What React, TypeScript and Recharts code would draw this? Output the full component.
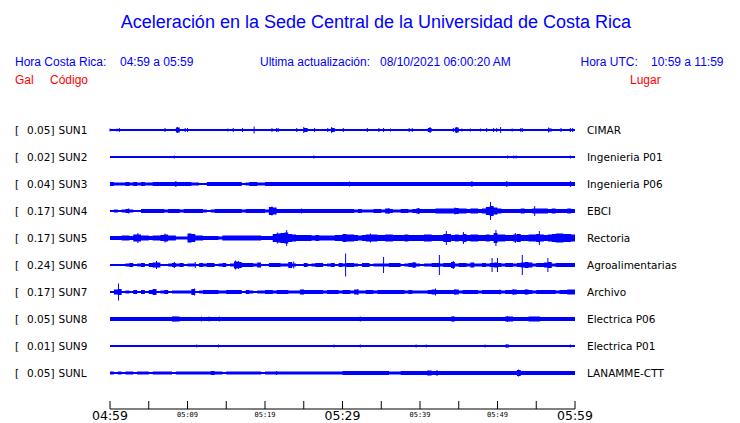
import { Area, ComposedChart, ErrorBar, Scatter, XAxis, YAxis } from "recharts";

// stations, top to bottom
const codes = ["SUN1", "SUN2", "SUN3", "SUN4", "SUN5", "SUN6", "SUN7", "SUN8", "SUN9", "SUNL"];
const places = [
  "CIMAR",
  "Ingenieria P01",
  "Ingenieria P06",
  "EBCI",
  "Rectoria",
  "Agroalimentarias",
  "Archivo",
  "Electrica P06",
  "Electrica P01",
  "LANAMME-CTT"
];
const gal = [0.05, 0.02, 0.04, 0.17, 0.17, 0.24, 0.17, 0.05, 0.01, 0.05];

// minutes after 04:59
const tickMinutes = [0, 5, 10, 15, 20, 25, 30, 35, 40, 45, 50, 55, 60];
const tickLabels = ["04:59", "", "05:09", "", "05:19", "", "05:29", "", "05:39", "", "05:49", "", "05:59"];
const majorLabels = ["04:59", "05:29", "05:59"];

// envelope half-width per half minute (half-pixel units)
const sun1Env = [
  2, 2, 2, 2, 2, 2, 2, 2, 2, 2, 2, 2, 2, 2, 2, 2, 2, 5, 2, 2, 2, 2, 2, 2, 2, 2, 2, 2, 2, 2, 2, 2, 2, 2, 2, 2, 2, 2, 2, 2,
  2, 2, 2, 2, 2, 2, 2, 2, 2, 2, 4, 2, 2, 2, 2, 2, 2, 4, 2, 2, 2, 2, 2, 2, 2, 2, 2, 2, 2, 2, 2, 2, 2, 2, 2, 2, 2, 2, 2, 2,
  2, 2, 4, 2, 2, 2, 2, 2, 2, 5, 2, 2, 2, 2, 2, 2, 2, 2, 2, 2, 2, 2, 2, 2, 2, 2, 2, 2, 2, 2, 2, 2, 2, 3, 2, 2, 2, 2, 2, 2
];
const sun2Env = [
  2, 2, 2, 2, 2, 2, 2, 2, 2, 2, 2, 2, 2, 2, 2, 2, 2, 2, 2, 2, 2, 2, 2, 2, 2, 2, 2, 2, 2, 2, 2, 2, 2, 2, 2, 2, 2, 2, 2, 2,
  2, 2, 2, 2, 2, 2, 2, 2, 2, 2, 2, 2, 2, 2, 2, 2, 2, 2, 2, 2, 2, 2, 2, 2, 2, 2, 2, 2, 2, 2, 2, 2, 2, 2, 2, 2, 2, 2, 2, 2,
  2, 2, 2, 2, 2, 2, 2, 2, 2, 2, 2, 2, 2, 2, 2, 2, 2, 2, 2, 2, 2, 2, 2, 2, 2, 2, 2, 2, 2, 2, 2, 2, 2, 2, 2, 2, 2, 2, 2, 2
];
const sun3Env = [
  4, 3, 3, 3, 4, 3, 4, 3, 4, 3, 3, 4, 4, 4, 4, 4, 4, 4, 4, 4, 4, 3, 3, 2, 2, 4, 4, 4, 4, 4, 4, 4, 4, 4, 2, 3, 4, 4, 3, 3,
  4, 4, 4, 4, 4, 4, 4, 4, 4, 4, 4, 4, 4, 4, 4, 4, 4, 4, 4, 4, 4, 4, 4, 4, 4, 4, 4, 4, 4, 4, 4, 4, 4, 4, 4, 4, 4, 4, 4, 4,
  4, 4, 4, 4, 4, 4, 4, 4, 4, 4, 4, 4, 4, 4, 4, 4, 4, 4, 4, 4, 4, 4, 4, 4, 4, 4, 4, 4, 4, 4, 4, 4, 4, 4, 4, 4, 4, 4, 4, 4
];
const sun4Env = [
  2, 3, 2, 3, 4, 3, 2, 2, 4, 4, 4, 4, 4, 4, 3, 4, 4, 4, 3, 4, 4, 4, 4, 4, 3, 2, 3, 4, 4, 4, 4, 4, 4, 4, 3, 4, 4, 4, 4, 4,
  3, 8, 7, 4, 4, 4, 4, 4, 4, 4, 4, 4, 4, 4, 4, 4, 4, 4, 4, 4, 4, 4, 4, 3, 4, 3, 3, 3, 4, 4, 3, 5, 4, 3, 3, 4, 4, 3, 4, 5,
  4, 4, 4, 4, 5, 5, 5, 5, 5, 6, 5, 5, 4, 5, 5, 4, 5, 8, 10, 7, 5, 4, 4, 4, 4, 4, 5, 4, 4, 5, 5, 5, 5, 4, 5, 4, 4, 4, 5, 4
];
const sun5Env = [
  4, 4, 4, 5, 5, 4, 7, 7, 5, 5, 4, 5, 5, 6, 7, 5, 5, 3, 3, 3, 9, 8, 5, 5, 4, 4, 4, 4, 3, 5, 5, 5, 5, 5, 5, 5, 5, 5, 5, 4,
  4, 4, 8, 9, 10, 11, 8, 7, 6, 6, 6, 6, 5, 6, 5, 5, 5, 5, 6, 6, 8, 7, 7, 6, 5, 6, 7, 7, 7, 6, 6, 7, 7, 6, 6, 6, 7, 6, 6, 6,
  6, 7, 7, 6, 6, 6, 8, 8, 6, 7, 6, 8, 6, 7, 7, 6, 6, 7, 6, 10, 7, 7, 6, 6, 7, 8, 6, 6, 7, 7, 8, 7, 6, 7, 8, 9, 9, 8, 8, 7
];
const sun6Env = [
  2, 2, 2, 2, 3, 4, 2, 3, 4, 2, 4, 5, 5, 2, 2, 3, 4, 3, 4, 2, 3, 3, 2, 4, 3, 4, 4, 2, 3, 4, 2, 3, 7, 6, 4, 4, 4, 3, 5, 2,
  2, 4, 4, 4, 3, 3, 6, 3, 2, 2, 4, 2, 3, 4, 4, 2, 3, 4, 2, 4, 3, 4, 4, 3, 2, 4, 4, 2, 3, 3, 3, 3, 4, 4, 4, 2, 3, 4, 5, 3,
  2, 3, 3, 4, 4, 3, 4, 4, 6, 3, 4, 4, 3, 5, 3, 3, 4, 3, 4, 5, 4, 3, 4, 4, 3, 4, 5, 6, 5, 3, 4, 4, 5, 6, 3, 4, 4, 4, 4, 4
];
const sun7Env = [
  2, 5, 6, 2, 3, 2, 4, 2, 4, 2, 4, 6, 2, 3, 4, 2, 3, 3, 3, 3, 3, 6, 2, 3, 4, 4, 4, 4, 3, 3, 4, 4, 4, 4, 2, 4, 3, 2, 3, 3,
  4, 4, 3, 4, 4, 4, 3, 3, 3, 5, 4, 4, 4, 4, 4, 3, 4, 4, 4, 3, 4, 4, 3, 5, 3, 3, 4, 4, 3, 4, 4, 4, 4, 4, 4, 4, 3, 4, 3, 3,
  3, 3, 4, 5, 4, 4, 4, 4, 4, 5, 3, 4, 4, 4, 4, 3, 4, 4, 4, 4, 4, 3, 4, 4, 5, 4, 4, 5, 4, 3, 4, 4, 4, 4, 4, 3, 4, 4, 5, 5
];
const sun8Env = [
  4, 4, 4, 4, 4, 4, 4, 4, 4, 4, 4, 4, 4, 4, 4, 4, 5, 5, 4, 4, 4, 4, 4, 4, 4, 4, 4, 4, 4, 4, 4, 4, 4, 4, 4, 4, 4, 4, 4, 4,
  4, 4, 4, 4, 4, 4, 4, 4, 4, 4, 4, 4, 4, 4, 4, 4, 4, 4, 4, 4, 4, 4, 4, 4, 4, 4, 4, 4, 4, 4, 4, 4, 4, 4, 4, 4, 4, 4, 4, 4,
  4, 4, 4, 4, 4, 4, 4, 4, 5, 4, 4, 4, 4, 4, 4, 4, 4, 4, 4, 4, 4, 4, 5, 5, 4, 4, 4, 4, 5, 5, 5, 4, 4, 4, 4, 4, 4, 4, 4, 4
];
const sun9Env = [
  2, 2, 2, 2, 2, 2, 2, 2, 2, 2, 2, 2, 2, 2, 2, 2, 2, 2, 2, 2, 2, 2, 2, 2, 2, 2, 2, 2, 2, 2, 2, 2, 2, 2, 2, 2, 2, 2, 2, 2,
  2, 2, 2, 2, 2, 2, 2, 2, 2, 2, 2, 2, 2, 2, 2, 2, 2, 2, 2, 2, 2, 2, 2, 2, 2, 2, 2, 2, 2, 2, 2, 2, 2, 2, 2, 2, 2, 2, 2, 2,
  2, 2, 2, 2, 2, 2, 2, 2, 2, 2, 2, 2, 2, 2, 2, 2, 2, 2, 2, 2, 2, 2, 3, 2, 2, 2, 2, 2, 2, 2, 2, 2, 2, 2, 2, 2, 2, 2, 2, 2
];
const sunlEnv = [
  3, 2, 3, 2, 3, 3, 2, 3, 3, 3, 2, 3, 3, 3, 3, 3, 2, 3, 3, 3, 3, 3, 3, 3, 3, 3, 4, 3, 3, 2, 3, 3, 3, 3, 3, 3, 3, 3, 3, 2,
  3, 3, 3, 3, 3, 3, 3, 3, 3, 3, 3, 3, 3, 3, 3, 3, 3, 3, 3, 3, 4, 4, 4, 4, 4, 4, 4, 4, 4, 4, 4, 4, 3, 3, 3, 4, 4, 4, 4, 4,
  4, 4, 5, 4, 4, 4, 4, 4, 4, 4, 4, 4, 4, 4, 4, 4, 4, 4, 4, 4, 4, 4, 4, 4, 4, 6, 4, 4, 4, 4, 4, 4, 4, 4, 4, 4, 4, 4, 4, 4
];

// isolated peaks: [minute, half-amplitude]
const sun1Spikes = [
  [0, 3], [0.9, 3], [1.2, 4], [7.1, 4], [8.7, 6], [9.7, 4], [10, 4], [15.2, 3], [15.9, 4], [17.1, 4], [18.6, 7],
  [20.9, 4], [21.5, 4], [21.7, 4], [24.1, 4], [25, 6], [26.4, 4], [28.1, 4], [28.6, 6], [30.1, 4], [33.2, 4],
  [34.7, 4], [35.3, 4], [36.2, 3], [38.6, 4], [39, 4], [41.3, 6], [44.3, 4], [44.7, 6], [45.4, 3], [46.5, 3],
  [47.8, 3], [48.6, 4], [49.5, 4], [49.9, 4], [50.4, 6], [51.9, 3], [53, 4], [53.2, 4], [56.6, 5], [58.2, 4],
  [59.4, 4], [59.7, 4]
];
const sun2Spikes = [[8.3, 3], [26.3, 3], [51.3, 3], [52.1, 3], [52.4, 3], [59.4, 3]];
const sun3Spikes = [[8.5, 6], [30.9, 5], [38.1, 4], [46.7, 6], [51.2, 6], [59.4, 6]];
const sun4Spikes = [[2.4, 5], [20.9, 9], [24.7, 5], [36, 6], [39.8, 6], [44.5, 7], [49.1, 18], [54.8, 10]];
const sun5Spikes = [
  [3.6, 10], [7.1, 9], [10.3, 9], [21.6, 11], [22.8, 16], [33.6, 9], [43.4, 14], [45.6, 12], [49.8, 16], [52.3, 10],
  [55.4, 14]
];
const sun6Spikes = [
  [6, 8], [8.3, 6], [11, 6], [16.2, 9], [16.6, 8], [23.7, 7], [30.4, 23], [35.3, 16], [39.2, 6], [42.5, 20],
  [44.3, 8], [49.3, 14], [50, 14], [53.2, 20], [56.5, 14]
];
const sun7Spikes = [[1.1, 17], [5.7, 6], [10.9, 7], [24.9, 5], [32, 6], [42, 7], [44.5, 6], [50.3, 5], [52, 6], [53.7, 5]];
const sun8Spikes = [
  [8.2, 5], [8.5, 5], [11.8, 5], [12.8, 5], [14.1, 5], [16.7, 4], [18.8, 4], [20.6, 4], [22.5, 4], [25.4, 4],
  [27.2, 4], [32.3, 5], [42.2, 4], [44.3, 5], [51.3, 6], [56.8, 4]
];
const sun9Spikes = [[11.2, 3], [14, 3], [28.9, 3], [32.3, 3], [39.5, 3], [40.8, 3], [48.4, 3], [51.2, 3], [59.4, 3]];
const sunlSpikes = [[13.1, 4], [21.5, 4], [41, 5], [42.2, 6], [52.7, 7]];

const envelopes = [sun1Env, sun2Env, sun3Env, sun4Env, sun5Env, sun6Env, sun7Env, sun8Env, sun9Env, sunlEnv];
const spikeSets = [
  sun1Spikes, sun2Spikes, sun3Spikes, sun4Spikes, sun5Spikes,
  sun6Spikes, sun7Spikes, sun8Spikes, sun9Spikes, sunlSpikes
];

const BLUE = "#0000ff";
const RED = "#ff0000";
const GAP = 54; // vertical distance between traces, in amplitude units
const offsets = codes.map((_, i) => -i * GAP);
const yDomain = [-558, 54];
const AXIS_Y = 409; // plot bottom: 423 - 14 (x axis height)

const rows = Array.from({ length: 121 }, (_, k) => {
  const row: Record<string, any> = { t: k / 2 };
  envelopes.forEach((env, i) => {
    const e = env[Math.min(k, env.length - 1)];
    row["s" + i] = [offsets[i] - e, offsets[i] + e];
  });
  return row;
});

const spikePoints = spikeSets.flatMap((set, i) => set.map(([t, amp]) => ({ t, y: offsets[i], amp })));

const traceIndex = (v: number) => Math.round(-v / GAP);

function LeftTick({ x, y, payload }: any) {
  const i = traceIndex(payload.value);
  const font = { fontFamily: "DejaVu Sans, sans-serif", fontSize: 10.5, fill: "#000" };
  return (
    <g>
      <text x={x - 95} y={y + 4} {...font}>[</text>
      <text x={x - 55.5} y={y + 4} textAnchor="end" {...font}>{gal[i].toFixed(2)}]</text>
      <text x={x - 51.5} y={y + 4} {...font}>{codes[i]}</text>
    </g>
  );
}

function RightTick({ x, y, payload }: any) {
  const i = traceIndex(payload.value);
  return (
    <text x={x} y={y + 4} fontFamily="DejaVu Sans, sans-serif" fontSize={10.5} fill="#000">
      {places[i]}
    </text>
  );
}

function TimeTick({ x, index }: any) {
  const label = tickLabels[index];
  const major = majorLabels.includes(label);
  return (
    <g>
      <line x1={x} x2={x} y1={AXIS_Y} y2={AXIS_Y - 8} stroke="#000" />
      {label && (
        <text
          x={x}
          y={major ? AXIS_Y + 11 : AXIS_Y + 8}
          textAnchor="middle"
          fontFamily={major ? "DejaVu Sans, sans-serif" : "DejaVu Sans Mono, monospace"}
          fontSize={major ? 12.5 : 7}
          fill="#000"
        >
          {label}
        </text>
      )}
    </g>
  );
}

function Header() {
  const f = { fontFamily: "Liberation Sans, Arial, sans-serif", fontSize: 12 };
  return (
    <svg width={740} height={100} style={{ position: "absolute", left: 0, top: 0 }}>
      <text x={376} y={28} textAnchor="middle" fontFamily="Liberation Sans, Arial, sans-serif" fontSize={18} fill={BLUE}>
        Aceleración en la Sede Central de la Universidad de Costa Rica
      </text>
      <text x={15} y={65.5} fill={BLUE} {...f}>Hora Costa Rica:</text>
      <text x={120} y={65.5} fill={BLUE} {...f}>04:59 a 05:59</text>
      <text x={260} y={65.5} fill={BLUE} {...f}>Ultima actualización:</text>
      <text x={380} y={65.5} fill={BLUE} {...f}>08/10/2021 06:00:20 AM</text>
      <text x={580.5} y={65.5} fill={BLUE} {...f}>Hora UTC:</text>
      <text x={651} y={65.5} fill={BLUE} {...f}>10:59 a 11:59</text>
      <text x={15} y={84} fill={RED} {...f}>Gal</text>
      <text x={50} y={84} fill={RED} {...f}>Código</text>
      <text x={630} y={84} fill={RED} {...f}>Lugar</text>
    </svg>
  );
}

export default function App() {
  return (
    <div style={{ position: "absolute", left: 0, top: 0, width: 740, height: 423, background: "#fff", overflow: "hidden" }}>
      <ComposedChart width={740} height={423} data={rows} margin={{ top: 103, right: 0, bottom: 0, left: 0 }}>
        <XAxis
          dataKey="t"
          type="number"
          domain={[0, 60]}
          ticks={tickMinutes}
          interval={0}
          height={14}
          tickSize={0}
          tickMargin={0}
          tickLine={false}
          axisLine={{ stroke: "#000" }}
          tick={TimeTick}
          allowDataOverflow
        />
        <YAxis
          yAxisId="g"
          type="number"
          domain={yDomain}
          ticks={offsets}
          interval={0}
          width={110}
          tickSize={0}
          tickMargin={0}
          tickLine={false}
          axisLine={false}
          tick={LeftTick}
          allowDataOverflow
        />
        <YAxis
          yAxisId="p"
          orientation="right"
          type="number"
          domain={yDomain}
          ticks={offsets}
          interval={0}
          width={165}
          tickSize={0}
          tickMargin={12}
          tickLine={false}
          axisLine={false}
          tick={RightTick}
          allowDataOverflow
        />
        {envelopes.map((_, i) => (
          <Area
            key={codes[i]}
            yAxisId="g"
            dataKey={"s" + i}
            type="stepAfter"
            stroke="none"
            fill={BLUE}
            fillOpacity={1}
            dot={false}
            activeDot={false}
            isAnimationActive={false}
          />
        ))}
        <Scatter yAxisId="g" data={spikePoints} dataKey="y" shape={() => <g />} isAnimationActive={false}>
          <ErrorBar dataKey="amp" direction="y" width={0} stroke={BLUE} strokeWidth={1} isAnimationActive={false} />
        </Scatter>
      </ComposedChart>
      <Header />
    </div>
  );
}
